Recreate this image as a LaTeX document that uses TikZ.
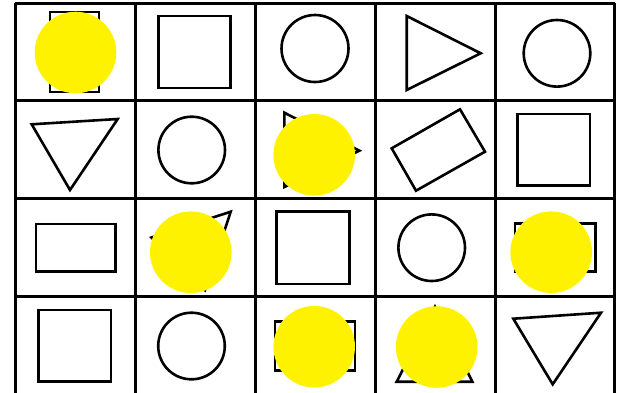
\documentclass[tikz,border=0pt]{standalone}
\usepackage{xcolor}
\usepackage{tikz}
\definecolor{spotyellow}{RGB}{255,242,0}

\begin{document}
\begin{tikzpicture}[x=1pt,y=-1pt,
  gridline/.style={line width=3pt,black,line cap=square},
  outline/.style={draw=black,line width=2.6pt,line join=miter},
  spot/.style={fill=spotyellow}]
\useasboundingbox (0,0) rectangle (620,392);
\clip (0,0) rectangle (620,392);
% grid of cells
\foreach \x in {15,135,255,375,495,614.5} \draw[gridline] (\x,3) -- (\x,394);
\foreach \y in {3,100.5,198,296,394} \draw[gridline] (15,\y) -- (614.5,\y);
% row 1
\draw[outline] (50,12) rectangle (99,92);
\draw[outline] (158.5,16) rectangle (230.5,88);
\draw[outline] (315,48.5) circle (33.5);
\draw[outline] (406.7,16) -- (406.7,90) -- (480.7,53.3) -- cycle;
\draw[outline] (557,53.3) circle (33.3);
% row 2
\draw[outline] (31.7,124.3) -- (117.7,119) -- (70,190) -- cycle;
\draw[outline] (191.7,150) circle (33.3);
\draw[outline] (284.3,112.7) -- (284.3,187) -- (359.3,150.7) -- cycle;
\draw[outline] (391.7,148.3) -- (460,109.3) -- (485,151.7) -- (416,190.7) -- cycle;
\draw[outline] (517.7,114) rectangle (590,185.7);
% row 3
\draw[outline] (36,224) rectangle (115.7,271.7);
\draw[outline] (230.7,211.7) -- (151.5,237.5) -- (205,290) -- cycle;
\draw[outline] (276.7,211.7) rectangle (349.3,284);
\draw[outline] (431.7,247.7) circle (33.3);
\draw[outline] (515,223.3) rectangle (595.7,271.7);
% row 4
\draw[outline] (38.3,310) rectangle (111,381.7);
\draw[outline] (191.5,346) circle (33.3);
\draw[outline] (275,321.7) rectangle (355,370.7);
\draw[outline] (435,306.7) -- (396.7,381.7) -- (472.3,381.7) -- cycle;
\draw[outline] (513.3,318.7) -- (601,312.7) -- (552.7,384.3) -- cycle;
% yellow spots on top
\foreach \cx/\cy in {75.5/52.5,314.2/154.8,190.8/252.2,551.2/252.2,314.2/346.7,436.7/347}
  \fill[spot] (\cx,\cy) circle (40.8);
\end{tikzpicture}
\end{document}
